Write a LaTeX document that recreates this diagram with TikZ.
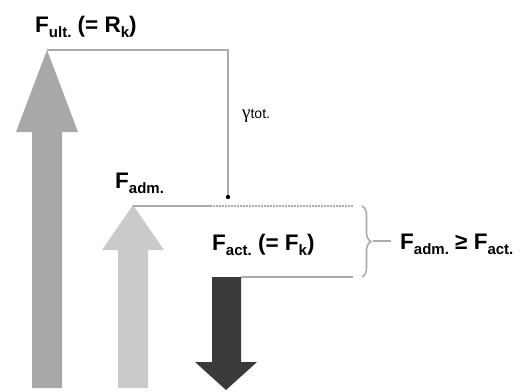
\documentclass[tikz,border=0pt]{standalone}
\usepackage{fontspec}
\setmainfont{Liberation Sans}
\newfontfamily\grkfont{Liberation Serif}
\usetikzlibrary{decorations.pathreplacing}
\definecolor{ultgray}{HTML}{A8A8A8}
\definecolor{admgray}{HTML}{CACACA}
\definecolor{actdark}{HTML}{3A3A3A}
\definecolor{linegray}{HTML}{ABABAB}
\newcommand{\mysub}[1]{\raisebox{-0.45ex}{\fontsize{15}{16}\selectfont #1}}
\begin{document}
\begin{tikzpicture}[x=1pt,y=-1pt,
  conn/.style={draw=linegray, line width=1.6pt},
  lbl/.style={anchor=base west, inner sep=0pt, font=\fontsize{22.5}{24}\selectfont\bfseries},
  dotcon/.style={draw=linegray, line width=1.6pt, dash pattern=on 2pt off 1pt}]
\useasboundingbox (0,0) rectangle (521,391);
% arrows
\fill[ultgray] (32,388) -- (32,132) -- (16,132) -- (47,50) -- (78,132) -- (62,132) -- (62,388) -- cycle;
\fill[admgray] (118,388) -- (118,250) -- (102,250) -- (133,205) -- (164,250) -- (148,250) -- (148,388) -- cycle;
\fill[actdark] (212,277) -- (212,362) -- (195,362) -- (226,390) -- (257,362) -- (241,362) -- (241,277) -- cycle;
% coordinates
\coordinate (ulttip) at (47,50);
\coordinate (corner) at (228,50);
\coordinate (dot) at (228,197);
\coordinate (admtip) at (133,206);
\coordinate (midA) at (210,206);
\coordinate (endA) at (353,206);
\coordinate (acttop) at (241,277);
\coordinate (endB) at (353,277);
\coordinate (brtop) at (362,206);
\coordinate (brbot) at (362,277);
\coordinate (brtip) at (373,241);
\coordinate (brend) at (391,241);
% connectors
\draw[conn] (ulttip) -- (corner) -- (dot);
\fill[black] (dot) circle (2.2pt);
\draw[conn] (admtip) -- (midA);
\draw[dotcon] (midA) -- (endA);
\draw[conn] (acttop) -- (endB);
\draw[conn, decorate, decoration={brace, amplitude=9pt}] (brtop) -- (brbot);
\draw[conn] (brtip) -- (brend);
% labels
\node[lbl] (ult) at (35,32) {F\mysub{ult.} (= R\mysub{k})};
\node[lbl] (adm) at (115,188) {F\mysub{adm.}};
\node[lbl] (act) at (212,250) {F\mysub{act.} (= F\mysub{k})};
\node[lbl] (cmp) at (400,249) {F\mysub{adm.} ≥ F\mysub{act.}};
\node[anchor=base west, inner sep=0pt] (gam) at (242,118) {{\grkfont\fontsize{19}{20}\selectfont γ}{\fontsize{14}{15}\selectfont tot.}};
\end{tikzpicture}
\end{document}
